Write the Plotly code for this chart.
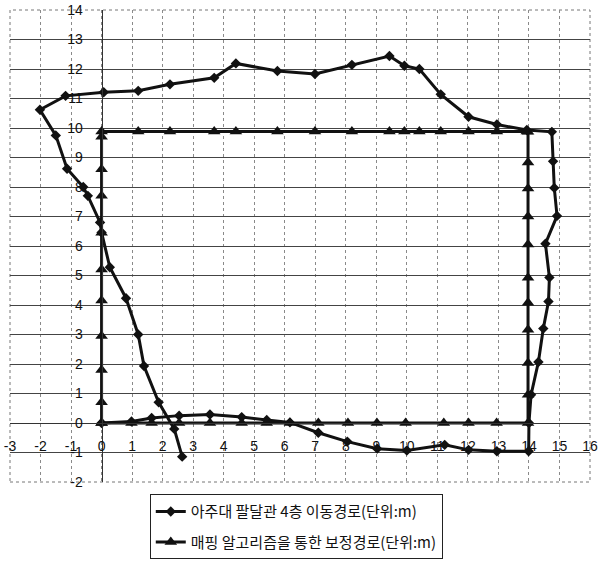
import plotly.graph_objects as go

# Measured walking path on the 4th floor (metres)
path_x = [0, 0.98, 1.64, 2.54, 3.55, 4.59, 5.41, 6.17, 7.1, 8.05, 9.03, 10.0, 11.24, 12.02,
          12.95, 13.99, 14.0, 14.07, 14.31, 14.47, 14.64, 14.67, 14.54, 14.92, 14.83, 14.79,
          14.75, 13.93, 12.95, 12.02, 11.11, 10.41, 9.92, 9.43, 8.2, 6.99, 5.76, 4.4, 3.69,
          2.24, 1.2, 0.07, -1.18, -2.02, -1.5, -1.13, -0.6, -0.45, -0.05, 0, 0.27, 0.8, 1.2,
          1.39, 1.87, 2.38, 2.64]
path_y = [0, 0.05, 0.17, 0.25, 0.29, 0.2, 0.1, 0.02, -0.33, -0.63, -0.87, -0.93, -0.74, -0.91,
          -0.96, -0.96, 0.0, 0.96, 2.07, 3.2, 4.12, 4.93, 6.08, 7.02, 7.97, 8.87, 9.87, 9.93,
          10.12, 10.38, 11.14, 12.0, 12.11, 12.44, 12.14, 11.83, 11.93, 12.19, 11.7, 11.48,
          11.26, 11.21, 11.09, 10.62, 9.75, 8.62, 8.0, 7.7, 6.8, 6.46, 5.28, 4.23, 3.0, 1.93,
          0.7, -0.2, -1.14]

# Path corrected by the mapping algorithm (metres)
corr_x = [0, 0.98, 1.64, 2.54, 3.55, 4.59, 5.41, 6.17, 7.1, 8.07, 9.02, 9.96, 11.21, 12.02,
          12.94, 13.97, 13.97, 13.97, 13.97, 13.97, 13.97, 13.97, 13.97, 13.97, 13.97, 13.97,
          13.93, 12.95, 12.02, 11.11, 10.41, 9.92, 9.43, 8.2, 6.99, 5.76, 4.4, 3.69, 2.24, 1.2,
          0, 0, 0, 0, 0, 0, 0, 0, 0, 0, 0]
corr_y = [0, 0, 0, 0, 0, 0, 0, 0, 0, 0, 0, 0, 0, 0,
          0, 0, 0.96, 2.03, 3.16, 4.08, 4.92, 6.05, 7.0, 7.95, 8.83, 9.87,
          9.88, 9.88, 9.88, 9.88, 9.88, 9.88, 9.88, 9.88, 9.88, 9.88, 9.88, 9.88, 9.88, 9.88,
          9.88, 9.7, 8.6, 7.7, 6.45, 5.2, 4.15, 2.95, 1.8, 0.7, 0]

name_path = "아주대 팔달관 4층 이동경로(단위:m)"
name_corr = "매핑 알고리즘을 통한 보정경로(단위:m)"

x_ticks = list(range(-3, 17))
y_ticks = list(range(-2, 15))
x_range = [-3, 16]
y_range = [-2, 14]

ink = "#111111"

fig = go.Figure()
fig.add_trace(go.Scatter(
    x=path_x, y=path_y, mode="lines+markers", name=name_path,
    line=dict(color=ink, width=3),
    marker=dict(symbol="diamond", size=8, color=ink),
    legendgroup="a",
))
fig.add_trace(go.Scatter(
    x=corr_x, y=corr_y, mode="lines+markers", name=name_corr,
    line=dict(color=ink, width=3),
    marker=dict(symbol="triangle-up", size=11, color=ink),
    legendgroup="b",
))

# plot frame
fig.add_shape(type="rect", xref="paper", yref="paper", x0=0, y0=0, x1=1, y1=1,
              line=dict(color="#777", width=1, dash="dot"), layer="below")

tick_font = dict(family="Liberation Sans, Arial", size=14, color=ink)

fig.update_layout(
    width=608, height=562,
    margin=dict(l=10, r=18, t=10, b=80, autoexpand=False),
    paper_bgcolor="white", plot_bgcolor="white",
    showlegend=True,
    legend=dict(
        x=0.241, y=-0.026, xanchor="left", yanchor="top",
        bordercolor="#222", borderwidth=1, bgcolor="white",
        font=dict(family="Noto Sans CJK KR", size=15, color=ink),
        traceorder="grouped", tracegroupgap=8,
        itemwidth=30,
    ),
    xaxis=dict(
        range=x_range, tickmode="array", tickvals=x_ticks,
        ticktext=[str(v) for v in x_ticks],
        anchor="free", position=(0 - y_range[0]) / (y_range[1] - y_range[0]),
        showgrid=True, gridcolor="#8a8a8a", gridwidth=1, griddash="dot",
        zeroline=False, showline=True, linecolor="#333", linewidth=1,
        ticks="", ticklabelstandoff=10, tickfont=tick_font,
    ),
    yaxis=dict(
        range=y_range, tickmode="array", tickvals=y_ticks,
        ticktext=[str(v) for v in y_ticks],
        anchor="free", position=(0 - x_range[0]) / (x_range[1] - x_range[0]),
        showgrid=True, gridcolor="#444", gridwidth=1,
        zeroline=False, showline=True, linecolor="#333", linewidth=1,
        ticks="", ticklabelstandoff=16, tickfont=tick_font,
    ),
)

fig.write_html("out.html")
